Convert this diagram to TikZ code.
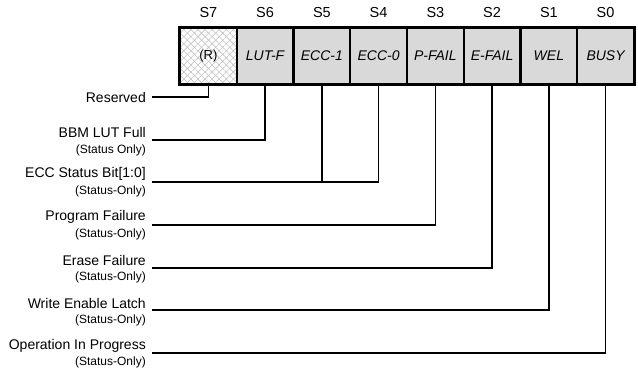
\documentclass[tikz,border=0pt]{standalone}
\usepackage{fontspec}
\setmainfont{Liberation Sans}
\usetikzlibrary{patterns.meta}
\definecolor{cellgray}{RGB}{217,217,217}
\definecolor{hatchgray}{RGB}{195,195,195}
\tikzset{
  cell/.style={draw=black, line width=2pt, fill=cellgray, minimum width=56.75pt, minimum height=56pt, inner sep=0pt, font=\fontsize{14}{16}\selectfont\itshape},
  rcell/.style={draw=black, line width=2pt, minimum width=56.75pt, minimum height=56pt, inner sep=0pt, font=\fontsize{13}{15}\selectfont,
    pattern={Lines[angle=45,distance=5pt,line width=0.6pt]}, pattern color=hatchgray,
    postaction={pattern={Lines[angle=-45,distance=5pt,line width=0.6pt]}, pattern color=hatchgray}},
  bitlab/.style={font=\fontsize{14.5}{16}\selectfont, inner sep=0pt},
  mainlab/.style={anchor=east, font=\fontsize{14}{16}\selectfont, inner sep=0pt},
  sublab/.style={anchor=east, font=\fontsize{12}{14}\selectfont, inner sep=0pt},
  conn/.style={line width=1.4pt, black},
}
\begin{document}
\begin{tikzpicture}[x=1pt,y=-1pt]
\useasboundingbox (0,0) rectangle (638,369);
% register cells
\node[rcell] (c7) at (208.4,56) {(R)};
\node[cell] (c6) at (265.1,56) {LUT-F};
\node[cell] (c5) at (321.9,56) {ECC-1};
\node[cell] (c4) at (378.6,56) {ECC-0};
\node[cell] (c3) at (435.4,56) {P-FAIL};
\node[cell] (c2) at (492.1,56) {E-FAIL};
\node[cell] (c1) at (548.9,56) {WEL};
\node[cell] (c0) at (605.6,56) {BUSY};
\draw[line width=3pt] (c7.north west) rectangle (c0.south east);
% bit labels
\node[bitlab] (s7) at (208.4,13) {S7};
\node[bitlab] (s6) at (265.1,13) {S6};
\node[bitlab] (s5) at (321.9,13) {S5};
\node[bitlab] (s4) at (378.6,13) {S4};
\node[bitlab] (s3) at (435.4,13) {S3};
\node[bitlab] (s2) at (492.1,13) {S2};
\node[bitlab] (s1) at (548.9,13) {S1};
\node[bitlab] (s0) at (605.6,13) {S0};
% descriptions
\node[mainlab] (d7) at (146,97) {Reserved};
\node[mainlab] (d6) at (146,132) {BBM LUT Full};
\node[sublab] (d6s) at (146,150) {(Status Only)};
\node[mainlab] (d5) at (146,174) {ECC Status Bit[1:0]};
\node[sublab] (d5s) at (146,191) {(Status-Only)};
\node[mainlab] (d3) at (146,217) {Program Failure};
\node[sublab] (d3s) at (146,234) {(Status-Only)};
\node[mainlab] (d2) at (146,260) {Erase Failure};
\node[sublab] (d2s) at (146,277) {(Status-Only)};
\node[mainlab] (d1) at (146,303) {Write Enable Latch};
\node[sublab] (d1s) at (146,320) {(Status-Only)};
\node[mainlab] (d0) at (146,346) {Operation In Progress};
\node[sublab] (d0s) at (146,362) {(Status-Only)};
% connector starts
\coordinate (p7) at (152,97);
\coordinate (p6) at (152,140);
\coordinate (p5) at (152,182);
\coordinate (p3) at (152,225);
\coordinate (p2) at (152,268);
\coordinate (p1) at (152,310);
\coordinate (p0) at (152,353);
\draw[conn] (p7) -| (c7.south);
\draw[conn] (p6) -| (c6.south);
\draw[conn] (p5) -| (c4.south);
\draw[conn] (c5.south) -- (c5.south |- p5);
\draw[conn] (p3) -| (c3.south);
\draw[conn] (p2) -| (c2.south);
\draw[conn] (p1) -| (c1.south);
\draw[conn] (p0) -| (c0.south);
\end{tikzpicture}
\end{document}
